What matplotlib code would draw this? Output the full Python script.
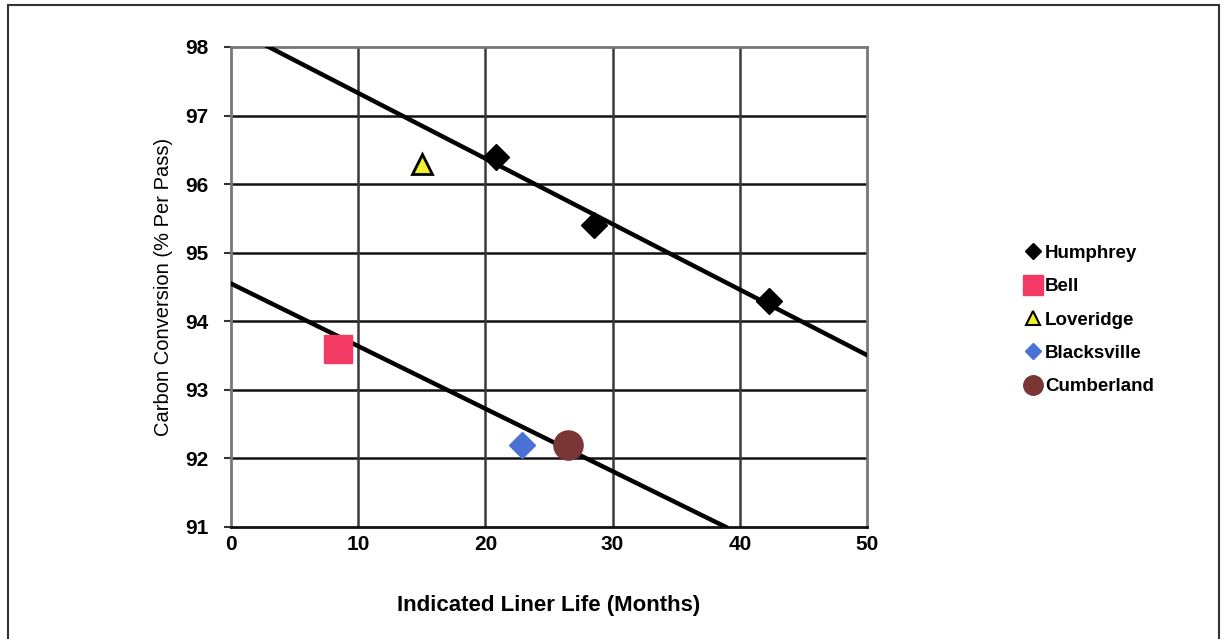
import numpy as np
import matplotlib
matplotlib.use("Agg")
import matplotlib.pyplot as plt
from matplotlib.patches import Rectangle

plt.rcParams['font.family'] = ['Liberation Sans', 'DejaVu Sans']

# Liner life (months) vs carbon conversion (% per pass) for each site
humphrey_x = [20.8, 28.5, 42.3]
humphrey_y = [96.4, 95.4, 94.3]
bell_x = [8.4]
bell_y = [93.6]
loveridge_x = [15.0]
loveridge_y = [96.3]
blacksville_x = [22.9]
blacksville_y = [92.2]
cumberland_x = [26.5]
cumberland_y = [92.2]

# Lower guide line end points
lower_line_x = [0.0, 38.9]
lower_line_y = [94.55, 91.0]

x_ticks = [0, 10, 20, 30, 40, 50]
y_ticks = [91, 92, 93, 94, 95, 96, 97, 98]

W, H = 1221, 639
fig = plt.figure(figsize=(W / 100, H / 100), dpi=100)
ax = fig.add_axes([231 / W, 1 - 527 / H, (867 - 231) / W, (527 - 47) / H])

ax.set_xlim(0, 50)
ax.set_ylim(91, 98)
ax.set_xticks(x_ticks)
ax.set_yticks(y_ticks)

# grid
for yv in y_ticks[1:-1]:
    ax.axhline(yv, color='#111111', lw=1.8, zorder=1)
for xv in x_ticks[1:-1]:
    ax.axvline(xv, color='#3a3a3a', lw=1.8, zorder=1)

for side in ['top', 'right', 'left']:
    ax.spines[side].set_color('#777777')
    ax.spines[side].set_linewidth(2.0)
ax.spines['bottom'].set_color('#111111')
ax.spines['bottom'].set_linewidth(2.0)

# trend lines
slope, intercept = np.polyfit(humphrey_x, humphrey_y, 1)
tx = np.array([0, 50])
ax.plot(tx, slope * tx + intercept, color='black', lw=3.2, zorder=3)
ax.plot(lower_line_x, lower_line_y, color='black', lw=3.2, zorder=3)

# points
ax.plot(humphrey_x, humphrey_y, 'D', ms=13.5, color='black', zorder=4)
ax.plot(bell_x, bell_y, 's', ms=20.5, color='#f23a64', mec='#f23a64', zorder=4)
ax.plot(loveridge_x, loveridge_y, '^', ms=15, mfc='#f2f02a', mec='black', mew=2, zorder=4)
ax.plot(blacksville_x, blacksville_y, 'D', ms=13, color='#4a72d6', zorder=4)
ax.plot(cumberland_x, cumberland_y, 'o', ms=21, color='#7a3535', zorder=4)

ax.tick_params(axis='y', direction='out', length=5, width=1.5, color='#333333',
               labelsize=15, pad=11)
ax.tick_params(axis='x', direction='out', length=0, labelsize=15, pad=6)
for lab in ax.get_xticklabels() + ax.get_yticklabels():
    lab.set_fontweight('bold')

ax.set_xlabel('Indicated Liner Life (Months)', fontsize=16, fontweight='bold', labelpad=29)
ax.set_ylabel('Carbon Conversion (% Per Pass)', fontsize=14.5, labelpad=9)

# legend
handles = [
    plt.Line2D([], [], marker='D', ls='', ms=8, color='black'),
    plt.Line2D([], [], marker='s', ls='', ms=14, color='#f23a64'),
    plt.Line2D([], [], marker='^', ls='', ms=10, mfc='#f2f02a', mec='black', mew=1.5),
    plt.Line2D([], [], marker='D', ls='', ms=8, color='#4a72d6'),
    plt.Line2D([], [], marker='o', ls='', ms=14, color='#7a3535'),
]
labels = ['Humphrey', 'Bell', 'Loveridge', 'Blacksville', 'Cumberland']
leg = fig.legend(handles, labels, loc='center left', bbox_to_anchor=(1016 / W, 1 - 320 / H),
                 frameon=False, fontsize=13.5, handlelength=0.8, handletextpad=0.25,
                 labelspacing=0.87, borderpad=0)
for t in leg.get_texts():
    t.set_fontweight('bold')

# outer frame
fig.patches.append(Rectangle((8 / W, -0.05), (1219 - 8) / W, 1.05 - 5 / H,
                             transform=fig.transFigure, fill=False,
                             edgecolor='#333333', lw=1.5))

fig.savefig('out.png', dpi=100)
